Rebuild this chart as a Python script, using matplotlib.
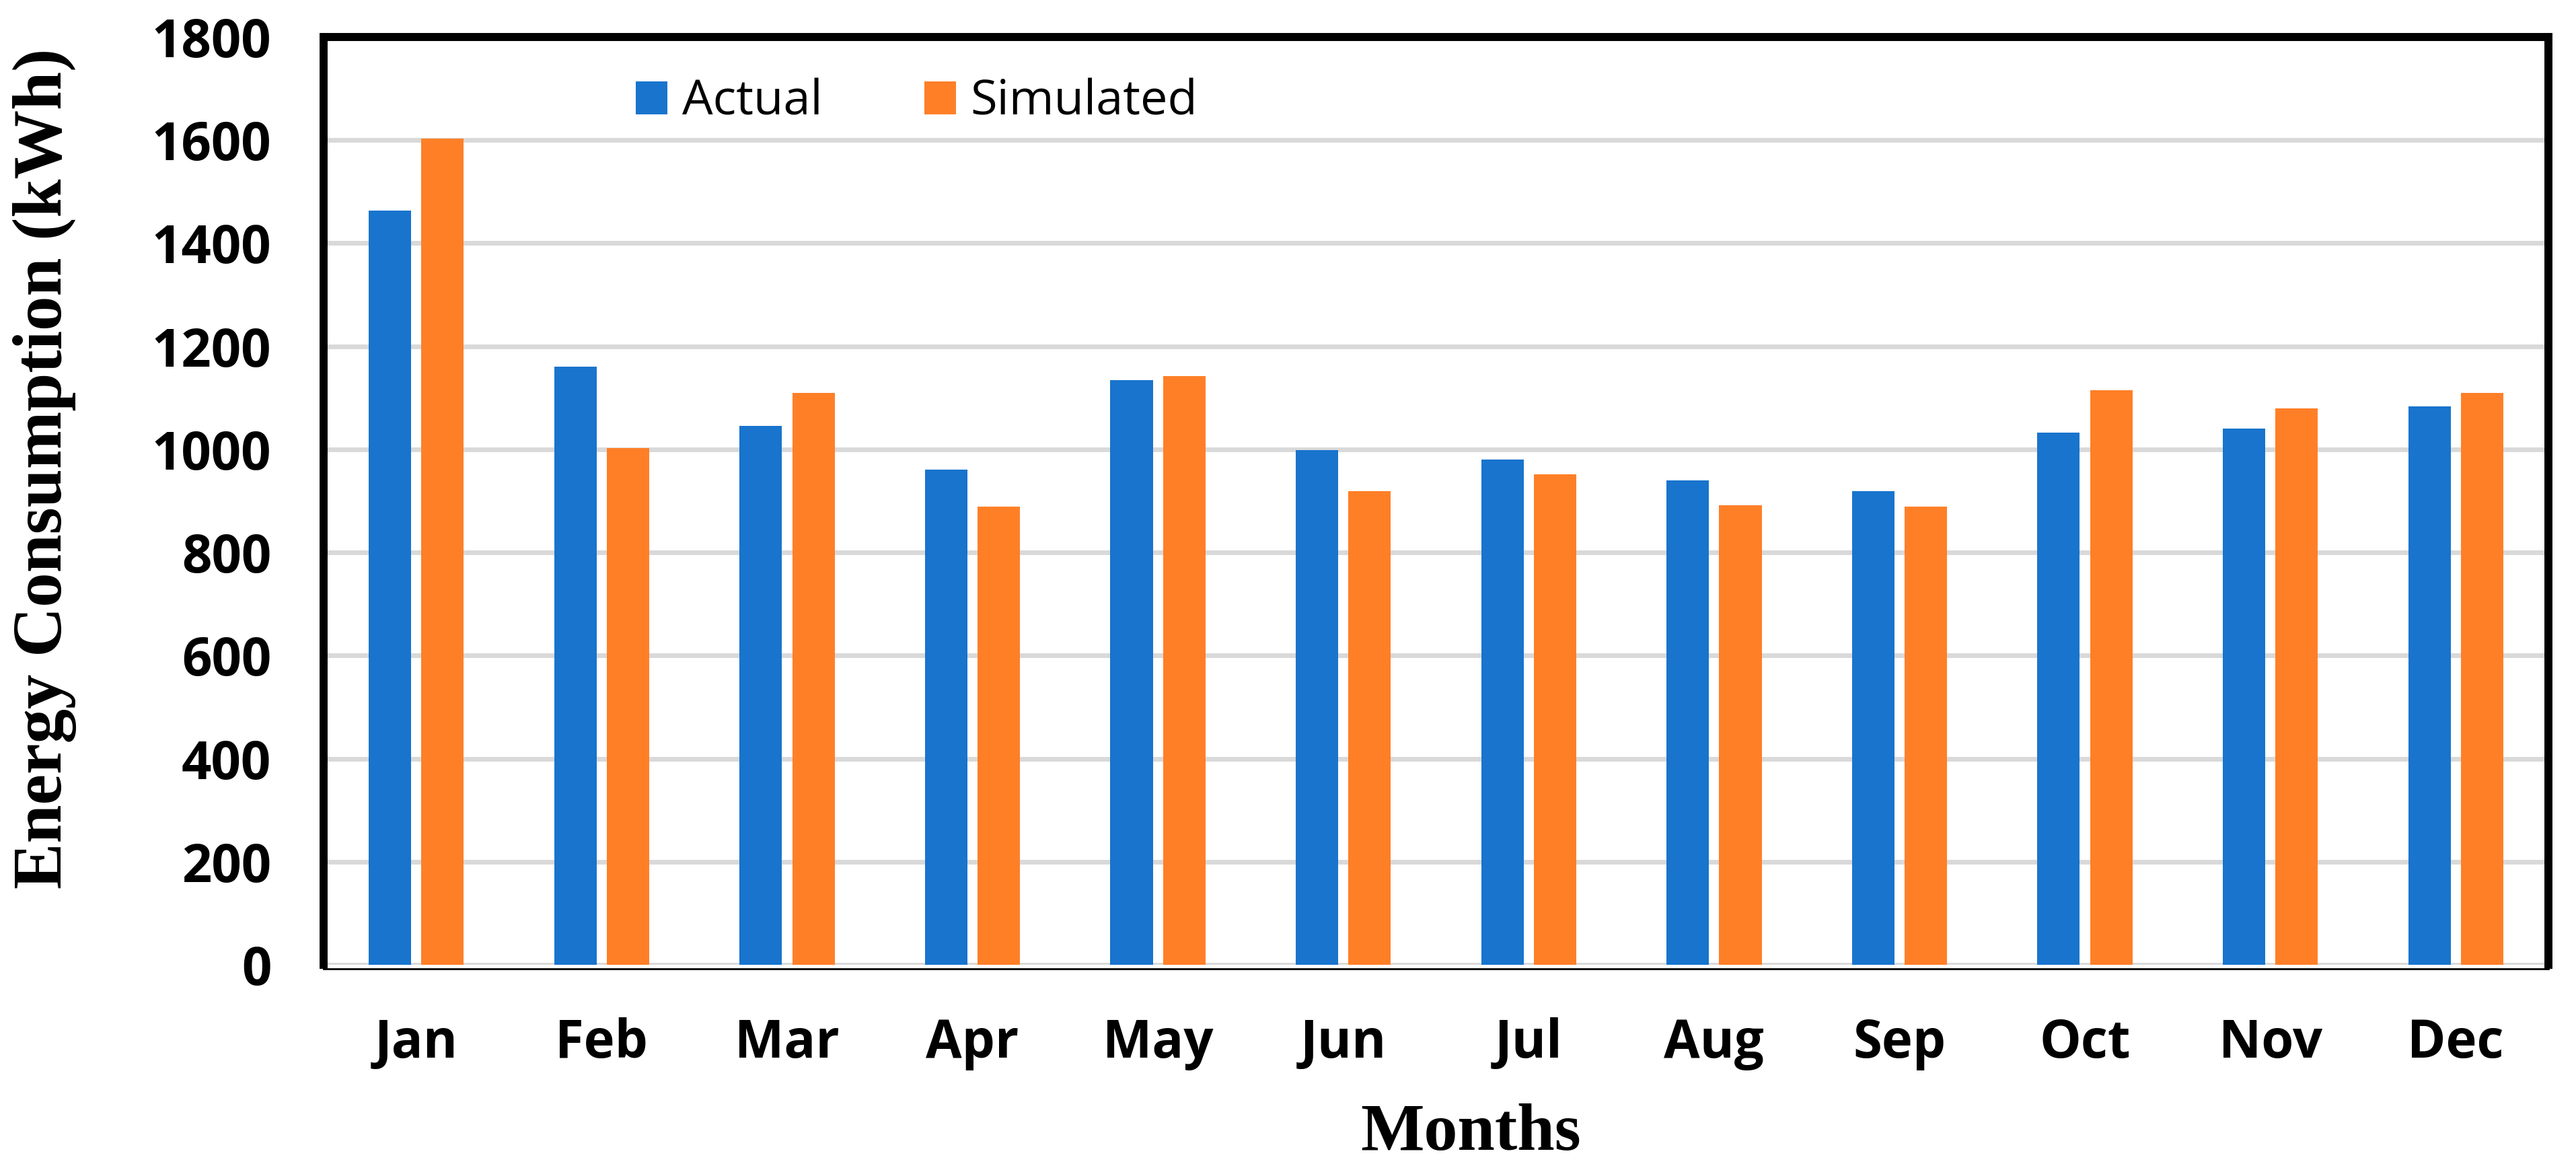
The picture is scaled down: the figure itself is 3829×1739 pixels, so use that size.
import numpy as np
import matplotlib
matplotlib.use('Agg')
import matplotlib.pyplot as plt

# ── Datos ──────────────────────────────────────────────
months    = ['Jan', 'Feb', 'Mar', 'Apr', 'May', 'Jun',
             'Jul', 'Aug', 'Sep', 'Oct', 'Nov', 'Dec']
actual    = [1463, 1160, 1046, 961, 1134, 998, 980, 940, 919, 1033, 1040, 1084]
simulated = [1603, 1003, 1110, 889, 1142, 919, 951, 891, 889, 1115, 1079, 1110]
yticks    = [0, 200, 400, 600, 800, 1000, 1200, 1400, 1600, 1800]

# ── Estética ───────────────────────────────────────────
BLUE = '#1874CD'; ORANGE = '#FF7F27'; GRID = '#D9D9D9'
SANS = 'Open Sans'; SERIF = 'Liberation Serif'
W, H = 3830, 1739

fig = plt.figure(figsize=(W / 100, H / 100), dpi=100, facecolor='white')
ax = fig.add_axes([481 / W, 1 - 1434 / H, (3788 - 481) / W, (1434 - 55) / H])

x = np.arange(len(months))
bw = 0.229; off = 0.142
b1 = ax.bar(x - off, actual,    bw, color=BLUE,   label='Actual',    zorder=3)
b2 = ax.bar(x + off, simulated, bw, color=ORANGE, label='Simulated', zorder=3)

ax.set_xlim(-0.5, len(months) - 0.5)
ax.set_ylim(0, 1800)
ax.set_yticks(yticks)
ax.set_xticks(x)
ax.set_xticklabels(months)

ax.yaxis.grid(True, color=GRID, lw=5, zorder=0)
ax.set_axisbelow(True)

for s in ['left', 'top', 'right']:
    ax.spines[s].set_linewidth(8.6)
    ax.spines[s].set_color('black')
ax.spines['bottom'].set_linewidth(2)
ax.spines['bottom'].set_position(('outward', 4))

ax.tick_params(axis='both', length=0)
ax.tick_params(axis='y', pad=56)
ax.tick_params(axis='x', pad=52)
for lbl in ax.get_xticklabels() + ax.get_yticklabels():
    lbl.set_fontfamily(SANS)
    lbl.set_fontweight('bold')
    lbl.set_fontsize(56)

# Etiquetas de ejes
fig.text(66 / W, 1 - 696 / H, 'Energy Consumption (kWh)', rotation=90,
         ha='center', va='center', fontsize=74, fontweight='bold', family=SERIF)
fig.text(2186 / W, 1 - 1685 / H, 'Months', ha='center', va='center',
         fontsize=72, fontweight='bold', family=SERIF)

# Leyenda
fig.legend(handles=[b1, b2], loc='center left',
           bbox_to_anchor=(945 / W, 1 - 152 / H), ncol=2, frameon=False,
           prop={'family': SANS, 'size': 52},
           handlelength=0.65, handleheight=0.68, handletextpad=0.3,
           columnspacing=2.1, borderpad=0, borderaxespad=0)

fig.savefig('out.png', dpi=100, facecolor='white')
